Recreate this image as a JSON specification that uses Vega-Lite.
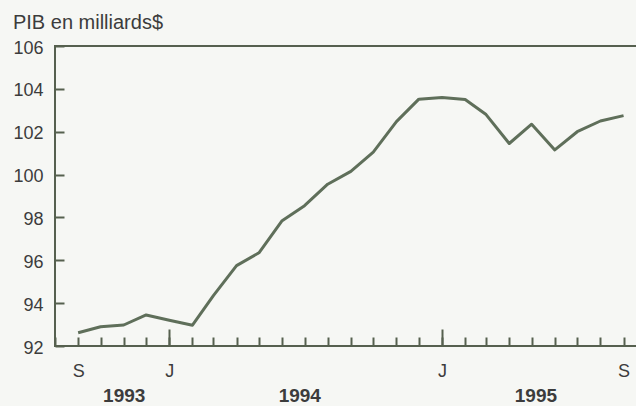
{
  "$schema": "https://vega.github.io/schema/vega-lite/v6.json",
  "width": 582,
  "height": 300,
  "autosize": {"type": "none"},
  "padding": {"left": 55, "top": 46, "right": 0, "bottom": 60},
  "background": "#f6f7f4",
  "config": {"view": {"stroke": "#56604f", "strokeWidth": 2}, "font": "Liberation Sans"},
  "title": {"text": "PIB en milliards$", "anchor": "start", "frame": "bounds", "fontSize": 20, "fontWeight": "normal", "color": "#3c3c3c", "font": "Liberation Sans", "offset": 6},
  "data": {"values": [
    {"date": "1993-09-01", "pib": 92.62},
    {"date": "1993-10-01", "pib": 92.9},
    {"date": "1993-11-01", "pib": 92.98},
    {"date": "1993-12-01", "pib": 93.45},
    {"date": "1994-01-01", "pib": 93.2},
    {"date": "1994-02-01", "pib": 92.97},
    {"date": "1994-03-01", "pib": 94.35},
    {"date": "1994-04-01", "pib": 95.75},
    {"date": "1994-05-01", "pib": 96.35},
    {"date": "1994-06-01", "pib": 97.85},
    {"date": "1994-07-01", "pib": 98.55},
    {"date": "1994-08-01", "pib": 99.55},
    {"date": "1994-09-01", "pib": 100.15},
    {"date": "1994-10-01", "pib": 101.05},
    {"date": "1994-11-01", "pib": 102.47},
    {"date": "1994-12-01", "pib": 103.52},
    {"date": "1995-01-01", "pib": 103.6},
    {"date": "1995-02-01", "pib": 103.5},
    {"date": "1995-03-01", "pib": 102.8},
    {"date": "1995-04-01", "pib": 101.45},
    {"date": "1995-05-01", "pib": 102.35},
    {"date": "1995-06-01", "pib": 101.15},
    {"date": "1995-07-01", "pib": 102.0},
    {"date": "1995-08-01", "pib": 102.5},
    {"date": "1995-09-01", "pib": 102.75}
  ]},
  "layer": [
    {
      "mark": {"type": "line", "color": "#5f6f5a", "strokeWidth": 3, "strokeJoin": "round"},
      "encoding": {
        "x": {
          "field": "date", "type": "temporal",
          "scale": {"type": "utc", "domain": ["1993-08-01", "1995-09-19"], "nice": false},
          "axis": {
            "orient": "bottom", "title": null, "grid": false, "domain": false,
            "offset": -9,
            "tickCount": {"interval": "month", "step": 1},
            "labelExpr": "(utcmonth(datum.value)==8 && utcyear(datum.value)!=1994) ? 'S' : (utcmonth(datum.value)==0 ? 'J' : '')",
            "labelOverlap": false, "labelFlush": false,
            "tickSize": 9, "tickWidth": 2, "tickColor": "#56604f",
            "labelFontSize": 18, "labelColor": "#3c3c3c", "labelPadding": 16, "labelBaseline": "top", "labelAlign": "center"
          }
        },
        "y": {
          "field": "pib", "type": "quantitative",
          "scale": {"domain": [92, 106], "nice": false, "zero": false},
          "axis": {
            "title": null, "grid": false, "domain": false,
            "offset": -9,
            "values": [92, 94, 96, 98, 100, 102, 104, 106],
            "tickSize": 9, "tickWidth": 2, "tickColor": "#56604f",
            "labelFontSize": 18, "labelColor": "#3c3c3c", "labelPadding": 12, "labelOffset": 2
          }
        }
      }
    },
    {
      "mark": {"type": "line", "opacity": 0},
      "encoding": {
        "x": {
          "field": "date", "type": "temporal",
          "axis": {
            "orient": "bottom", "title": null, "grid": false, "domain": false,
            "offset": -17,
            "values": ["1994-01-01", "1995-01-01"],
            "labels": false,
            "tickSize": 17, "tickWidth": 2, "tickColor": "#56604f"
          }
        },
        "y": {"field": "pib", "type": "quantitative"}
      }
    },
    {
      "mark": {"type": "line", "opacity": 0},
      "encoding": {
        "x": {
          "field": "date", "type": "temporal",
          "axis": {
            "orient": "bottom", "title": null, "grid": false,
            "values": ["1993-11-01", "1994-06-24", "1995-05-06"],
            "labelExpr": "utcyear(datum.value)",
            "ticks": false, "domain": false,
            "labelOverlap": false, "labelFlush": false,
            "labelFontSize": 19, "labelFontWeight": "bold", "labelColor": "#3c3c3c",
            "labelPadding": 40, "labelBaseline": "top", "labelAlign": "center"
          }
        },
        "y": {"field": "pib", "type": "quantitative"}
      }
    }
  ],
  "resolve": {"axis": {"x": "independent"}}
}
